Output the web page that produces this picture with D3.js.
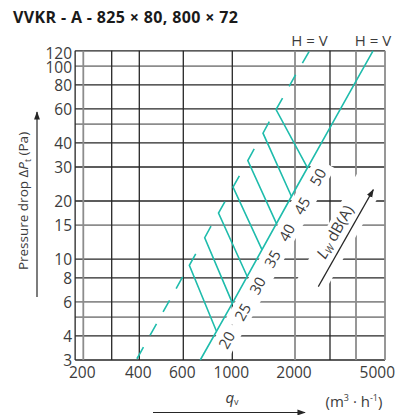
<!DOCTYPE html>
<html>
<head>
<meta charset="utf-8">
<script src="https://cdn.jsdelivr.net/npm/d3@7"></script>
<style>
  html, body { margin: 0; padding: 0; background: #fff; }
  svg { display: block; font-family: "Open Sans", "Noto Sans", sans-serif; }
</style>
</head>
<body>
<svg id="chart" width="396" height="415"></svg>
<script>
// ---- Grid and axis values -------------------------------------------
// Airflow q_v (m³/h), grid lines and their tone
const qGridValues = [200, 300, 400, 600, 1000, 2000, 3000, 4000, 5000];
const qGridTones  = ["light", "dark", "dark", "dark", "dark", "light", "dark", "light", "light"];
const qTickLabels = [200, 400, 600, 1000, 2000, 5000];
const qAxisStart  = 178;

// Pressure drop ΔPt (Pa), grid lines and their tone
const pGridValues = [3, 4, 5, 6, 8, 10, 15, 20, 30, 40, 50, 60, 80, 100, 120];
const pGridTones  = ["dark", "dark", "light", "light", "dark", "dark", "light", "dark",
                     "dark", "dark", "light", "dark", "dark", "light", "dark"];
const pTickLabels = [3, 4, 6, 8, 10, 15, 20, 30, 40, 60, 80, 100, 120];

// ---- Curves [q, p] ---------------------------------------------------
// H = V, solid line (right)
const hvSolid = [[716, 3], [1000, 5.9], [2000, 22.8], [3000, 48], [4000, 83.6], [4560, 120]];
// H = V, dashed line (left): run below the 20 dB(A) corner and above the 50 dB(A) tip
const hvDashLower = [[639, 9.29], [600, 8.2], [400, 3.2], [387, 3]];
const hvDashUpper = [[1743, 68.2], [2000, 89], [2366, 120]];

// Sound power level iso-lines: tip of the dash, corner, end on the solid line
const lwLevels  = [20, 25, 30, 35, 40, 45, 50];
const lwTips    = [[683, 10.65], [801, 14.8], [926, 19.85], [1081, 27.0], [1274, 37.2], [1505, 51.5], [1743, 68.2]];
const lwCorners = [[639, 9.29], [750, 12.9], [866, 17.3], [1008, 23.6], [1187, 32.4], [1404, 44.9], [1622, 59.5]];
const lwEnds    = [[846, 4.25], [1000, 5.93], [1178, 8.15], [1388, 11.2], [1628, 15.3], [1924, 21.1], [2312, 29.7]];

// Direction arrow for the L_W dB(A) annotation
const lwArrow = [[2620, 7.2], [4570, 22.9]];

// ---- Drawing ---------------------------------------------------------
const svg = d3.select("#chart");
const TEAL = "#1fbcac";
const DARK = "#262626";
const LIGHT = "#8c8c8c";
const TEXT = "#3c3c3c";

const x = d3.scaleLog()
  .domain(qGridValues)
  .range([83.3, 111.7, 139.3, 183.3, 232.3, 295, 330, 356, 385]);
const y = d3.scaleLog().domain([3, 120]).range([360, 50.8]);

const plotL = x(qAxisStart), plotR = x(5000), plotT = y(120), plotB = y(3);

const defs = svg.append("defs");
defs.append("clipPath").attr("id", "plot")
  .append("rect").attr("x", plotL).attr("y", plotT - 1)
  .attr("width", plotR - plotL).attr("height", plotB - plotT + 2);
defs.append("marker").attr("id", "arrowHead")
  .attr("viewBox", "0 0 10 10").attr("refX", 9).attr("refY", 5)
  .attr("markerWidth", 7).attr("markerHeight", 7)
  .attr("orient", "auto")
  .append("path").attr("d", "M0,1.5 L10,5 L0,8.5 Z").attr("fill", DARK);

// Title
svg.append("text")
  .attr("x", 13).attr("y", 23)
  .attr("font-size", 16).attr("font-weight", 700).attr("letter-spacing", 0.35)
  .attr("fill", "#1a1a1a")
  .text("VVKR - A - 825 × 80, 800 × 72");

// Grid
const grid = svg.append("g");
grid.selectAll("line.h").data(pGridValues).join("line")
  .attr("class", "h")
  .attr("x1", plotL).attr("x2", plotR)
  .attr("y1", d => y(d)).attr("y2", d => y(d))
  .attr("stroke", (d, i) => pGridTones[i] === "dark" ? DARK : LIGHT)
  .attr("stroke-width", (d, i) => pGridTones[i] === "dark" ? 1.3 : 1.8);
grid.selectAll("line.v").data(qGridValues).join("line")
  .attr("class", "v")
  .attr("y1", plotT).attr("y2", plotB)
  .attr("x1", d => x(d)).attr("x2", d => x(d))
  .attr("stroke", (d, i) => qGridTones[i] === "dark" ? DARK : LIGHT)
  .attr("stroke-width", (d, i) => qGridTones[i] === "dark" ? 1.3 : 1.8);
grid.append("line")
  .attr("x1", plotL).attr("x2", plotL).attr("y1", plotT).attr("y2", plotB)
  .attr("stroke", DARK).attr("stroke-width", 1.3);

// Orientation of the solid H = V line on screen, used for the level labels
const s0 = [x(hvSolid[0][0]), y(hvSolid[0][1])];
const s1 = [x(hvSolid[hvSolid.length - 1][0]), y(hvSolid[hvSolid.length - 1][1])];
const angle = Math.atan2(s1[1] - s0[1], s1[0] - s0[0]) * 180 / Math.PI;

// White backing behind the level labels (interrupts the grid)
const labelPos = lwEnds.map(d => [x(d[0]) + 10, y(d[1]) + 9]);
const backs = svg.append("g").attr("clip-path", "url(#plot)");
backs.selectAll("rect").data(labelPos).join("rect")
  .attr("x", -16).attr("y", -11).attr("width", 32).attr("height", 22)
  .attr("fill", "#fff")
  .attr("transform", d => `translate(${d[0]},${d[1]}) rotate(${angle})`);

// White band behind the L_W annotation
const a0 = [x(lwArrow[0][0]), y(lwArrow[0][1])];
const a1 = [x(lwArrow[1][0]), y(lwArrow[1][1])];
const aAng = Math.atan2(a1[1] - a0[1], a1[0] - a0[0]);
const aMid = [(a0[0] + a1[0]) / 2, (a0[1] + a1[1]) / 2];
const nrm = [Math.sin(aAng), -Math.cos(aAng)]; // points up-left of the arrow
const aLen = Math.hypot(a1[0] - a0[0], a1[1] - a0[1]);
backs.append("rect")
  .attr("x", -aLen / 2 - 6).attr("y", -16).attr("width", aLen + 12).attr("height", 30)
  .attr("fill", "#fff")
  .attr("transform", `translate(${aMid[0] + nrm[0] * 6},${aMid[1] + nrm[1] * 6}) rotate(${aAng * 180 / Math.PI})`);

// Curves
const line = d3.line().x(d => x(d[0])).y(d => y(d[1]));
const curves = svg.append("g").attr("clip-path", "url(#plot)")
  .attr("fill", "none").attr("stroke", TEAL).attr("stroke-width", 1.6);
curves.append("path").attr("d", line(hvSolid));
[hvDashLower, hvDashUpper].forEach(run => {
  curves.append("path").attr("d", line(run))
    .attr("stroke-dasharray", "13.3 13.5").attr("stroke-dashoffset", 13.3);
});
curves.selectAll("path.iso").data(lwLevels).join("path")
  .attr("class", "iso")
  .attr("stroke-linejoin", "miter")
  .attr("d", (d, i) => line([lwTips[i], lwCorners[i], lwEnds[i]]));

// Level labels
svg.append("g").selectAll("text").data(lwLevels).join("text")
  .attr("transform", (d, i) => `translate(${labelPos[i][0]},${labelPos[i][1]}) rotate(${angle})`)
  .attr("text-anchor", "middle").attr("dominant-baseline", "central")
  .attr("font-size", 15).attr("fill", TEXT)
  .text(d => d);

// L_W dB(A) annotation
svg.append("line")
  .attr("x1", a0[0]).attr("y1", a0[1]).attr("x2", a1[0]).attr("y2", a1[1])
  .attr("stroke", DARK).attr("stroke-width", 1.2)
  .attr("marker-end", "url(#arrowHead)");
const lwText = svg.append("text")
  .attr("transform", `translate(${aMid[0] + nrm[0] * 13},${aMid[1] + nrm[1] * 13}) rotate(${aAng * 180 / Math.PI})`)
  .attr("text-anchor", "middle").attr("dominant-baseline", "central")
  .attr("font-size", 15.5).attr("fill", TEXT);
lwText.append("tspan").attr("font-style", "italic").text("L");
lwText.append("tspan").attr("font-size", 10).attr("dy", 4).attr("font-style", "italic").text("W");
lwText.append("tspan").attr("dy", -4).text(" dB(A)");

// H = V captions
svg.append("g").selectAll("text").data([hvDashUpper[hvDashUpper.length - 1], hvSolid[hvSolid.length - 1]]).join("text")
  .attr("x", d => x(d[0])).attr("y", 46)
  .attr("text-anchor", "middle").attr("font-size", 15).attr("fill", TEXT)
  .text("H = V");

// Tick labels
svg.append("g").selectAll("text").data(pTickLabels).join("text")
  .attr("x", 72).attr("y", d => y(d) + (d === 120 ? 2 : d === 100 ? 1 : 0))
  .attr("text-anchor", "end").attr("dominant-baseline", "central")
  .attr("font-size", 15.5).attr("fill", TEXT)
  .text(d => d);
svg.append("g").selectAll("text").data(qTickLabels).join("text")
  .attr("x", d => d === 5000 ? 395 : x(d) - 1).attr("y", 378)
  .attr("text-anchor", d => d === 5000 ? "end" : "middle")
  .attr("font-size", 15.5).attr("fill", TEXT)
  .text(d => d);

// Y axis title and arrow
svg.append("line")
  .attr("x1", 37).attr("y1", 297).attr("x2", 37).attr("y2", 112)
  .attr("stroke", DARK).attr("stroke-width", 1.2)
  .attr("marker-end", "url(#arrowHead)");
const yTitle = svg.append("text")
  .attr("transform", "translate(23,201) rotate(-90)")
  .attr("text-anchor", "middle").attr("dominant-baseline", "central")
  .attr("font-size", 13.5).attr("fill", TEXT);
yTitle.append("tspan").text("Pressure drop Δ");
yTitle.append("tspan").attr("font-style", "italic").text("P");
yTitle.append("tspan").attr("font-size", 8.5).attr("dy", 4).text("t");
yTitle.append("tspan").attr("dy", -4).text(" (Pa)");

// X axis title, arrow and unit
const xTitle = svg.append("text")
  .attr("x", 232).attr("y", 403).attr("text-anchor", "middle")
  .attr("font-size", 15).attr("fill", TEXT);
xTitle.append("tspan").attr("font-style", "italic").text("q");
xTitle.append("tspan").attr("font-size", 9).attr("dy", 2).text("v");
svg.append("line")
  .attr("x1", 153).attr("y1", 412.5).attr("x2", 305).attr("y2", 412.5)
  .attr("stroke", DARK).attr("stroke-width", 1.2)
  .attr("marker-end", "url(#arrowHead)");
const unit = svg.append("text")
  .attr("x", 354).attr("y", 407).attr("text-anchor", "middle")
  .attr("font-size", 15).attr("fill", TEXT);
unit.append("tspan").text("(m");
unit.append("tspan").attr("font-size", 9).attr("dy", -6).text("3");
unit.append("tspan").attr("dy", 6).text(" · h");
unit.append("tspan").attr("font-size", 9).attr("dy", -6).text("-1");
unit.append("tspan").attr("dy", 6).text(")");
</script>
</body>
</html>
